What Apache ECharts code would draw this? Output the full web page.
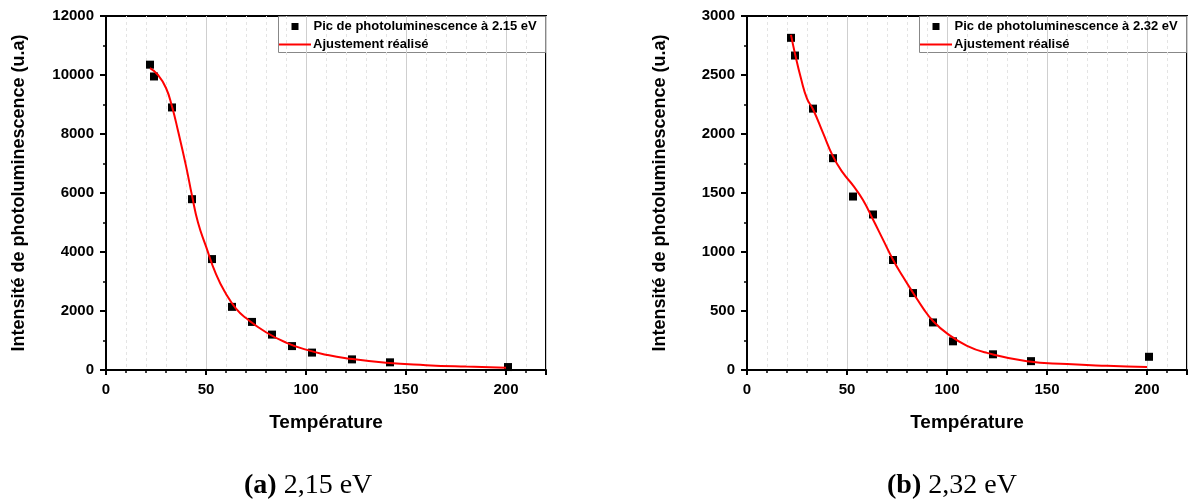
<!DOCTYPE html>
<html><head><meta charset="utf-8">
<script src="https://cdn.jsdelivr.net/npm/echarts@6/dist/echarts.min.js"></script>
<style>html,body{margin:0;padding:0;background:#fff}#c{width:1190px;height:503px}</style>
</head><body><div id="c"></div>
<script>
// Panel (a) 2,15 eV
const tempA = [22, 24, 33, 43, 53, 63, 73, 83, 93, 103, 123, 142, 201];
const intensA = [10350, 9950, 8900, 5790, 3760, 2140, 1630, 1200, 810, 590, 360, 260, 100];
const fitTA = [22, 26, 30, 33, 36, 40, 43, 46, 50, 55, 60, 65, 70, 80, 90, 100, 110, 120, 140, 160, 180, 200];
const fitVA = [10230, 10000, 9560, 8930, 8110, 6920, 5910, 5000, 4190, 3250, 2580, 2080, 1760, 1280, 930, 690, 520, 400, 245, 165, 115, 80];
// Panel (b) 2,32 eV
const tempB = [22, 24, 33, 43, 53, 63, 73, 83, 93, 103, 123, 142, 201];
const intensB = [2815, 2665, 2215, 1795, 1470, 1318, 932, 652, 403, 243, 133, 75, 112];
const fitTB = [22, 24, 27, 30, 33, 38, 43, 48, 53, 58, 63, 68, 73, 78, 83, 88, 93, 100, 110, 120, 140, 160, 180, 200];
const fitVB = [2840, 2680, 2470, 2300, 2210, 2010, 1810, 1670, 1565, 1440, 1275, 1105, 935, 790, 655, 525, 415, 310, 205, 145, 75, 50, 35, 25];
const xTicks = [0, 50, 100, 150, 200];
const xMin = 0, xMax = 220, xStep = 50;
const yA = {min: 0, max: 12000, step: 2000};
const yB = {min: 0, max: 3000, step: 500};
const nameScatterA = 'Pic de photoluminescence à 2.15 eV';
const nameScatterB = 'Pic de photoluminescence à 2.32 eV';
const nameFitA = 'Ajustement réalisé';
const nameFitB = 'Ajustement réalisé ';
const xTitle = 'Température';
const yTitle = 'Intensité de photoluminescence (u.a)';

const FONT = '"Liberation Sans", Arial, sans-serif';
const chart = echarts.init(document.getElementById('c'));

function xAxis(gi) {
  return {
    type: 'value', gridIndex: gi, min: xMin, max: xMax, interval: xStep,
    name: xTitle, nameLocation: 'middle', nameGap: 43,
    nameTextStyle: {fontFamily: FONT, fontWeight: 'bold', fontSize: 19, color: '#000'},
    axisLine: {show: true, onZero: false, lineStyle: {color: '#000', width: 2}},
    axisTick: {show: true, length: 5, lineStyle: {color: '#000', width: 2}},
    minorTick: {show: true, splitNumber: 5, length: 3, lineStyle: {color: '#000', width: 1.5}},
    axisLabel: {fontFamily: FONT, fontWeight: 'bold', fontSize: 15, color: '#000', margin: 12,
      showMaxLabel: false,
      formatter: v => xTicks.indexOf(v) >= 0 ? String(v) : ''},
    splitLine: {show: true, lineStyle: {color: '#cfcfcf', width: 1}},
    minorSplitLine: {show: true, lineStyle: {color: '#e4e4e4', width: 1, type: [3, 3]}}
  };
}
function yAxis(gi, r) {
  return {
    type: 'value', gridIndex: gi, min: r.min, max: r.max, interval: r.step,
    name: yTitle, nameLocation: 'middle', nameGap: 78, nameRotate: 90,
    nameTextStyle: {fontFamily: FONT, fontWeight: 'bold', fontSize: 18, color: '#000'},
    axisLine: {show: true, onZero: false, lineStyle: {color: '#000', width: 2}},
    axisTick: {show: true, length: 6, lineStyle: {color: '#000', width: 2}},
    minorTick: {show: true, splitNumber: 2, length: 3, lineStyle: {color: '#000', width: 1.5}},
    axisLabel: {fontFamily: FONT, fontWeight: 'bold', fontSize: 15, color: '#000', margin: 12,
      formatter: v => String(v)},
    splitLine: {show: false}
  };
}
function legendPair(left, sName, fName) {
  return [
    {show: true, left: left + 13.5, top: 20, padding: 0, orient: 'vertical', itemWidth: 7, itemHeight: 7,
     icon: 'rect', data: [sName], selectedMode: false,
     textStyle: {fontFamily: FONT, fontWeight: 'bold', fontSize: 13, color: '#000', padding: [0, 0, 0, 10]}},
    {show: true, left: left + 1, top: 38, padding: 0, orient: 'vertical', itemWidth: 32, itemHeight: 2,
     icon: 'path://M0,0H32V2H0Z', data: [fName], selectedMode: false,
     textStyle: {fontFamily: FONT, fontWeight: 'bold', fontSize: 13, color: '#000', padding: [0, 0, 0, -3]}}
  ];
}
function caption(left, tag, rest) {
  return {type: 'text', left: left, top: 472, style: {text: '{b|' + tag + '} ' + rest,
    font: '28px "Liberation Serif", "Times New Roman", serif', fill: '#000',
    rich: {b: {fontFamily: '"Liberation Serif", serif', fontWeight: 'bold', fontSize: 28}}}};
}

const option = {
  animation: false,
  backgroundColor: '#fff',
  grid: [
    {left: 106, right: 644, top: 16, bottom: 133, show: true, borderColor: '#000', borderWidth: 2, backgroundColor: 'transparent'},
    {left: 747, right: 3, top: 16, bottom: 133, show: true, borderColor: '#000', borderWidth: 2, backgroundColor: 'transparent'}
  ],
  xAxis: [xAxis(0), xAxis(1)],
  yAxis: [yAxis(0, yA), yAxis(1, yB)],
  legend: [...legendPair(278, nameScatterA, nameFitA), ...legendPair(919, nameScatterB, nameFitB)],
  graphic: [
    {type: 'rect', left: 278, top: 16, shape: {width: 267, height: 36}, style: {fill: '#fff', stroke: '#888', lineWidth: 1}},
    {type: 'rect', left: 919, top: 16, shape: {width: 267, height: 36}, style: {fill: '#fff', stroke: '#888', lineWidth: 1}},
    caption(244, '(a)', '2,15 eV'),
    caption(887, '(b)', '2,32 eV')
  ],
  series: [
    {name: nameScatterA, type: 'scatter', xAxisIndex: 0, yAxisIndex: 0, symbol: 'rect', symbolSize: 8,
     itemStyle: {color: '#000', opacity: 1}, data: tempA.map((t, i) => [t, intensA[i]]), z: 3},
    {name: nameFitA, type: 'line', xAxisIndex: 0, yAxisIndex: 0, symbol: 'none', smooth: 0.5,
     lineStyle: {color: '#ff0000', width: 2}, itemStyle: {color: '#ff0000'},
     data: fitTA.map((t, i) => [t, fitVA[i]]), z: 4},
    {name: nameScatterB, type: 'scatter', xAxisIndex: 1, yAxisIndex: 1, symbol: 'rect', symbolSize: 8,
     itemStyle: {color: '#000', opacity: 1}, data: tempB.map((t, i) => [t, intensB[i]]), z: 3},
    {name: nameFitB, type: 'line', xAxisIndex: 1, yAxisIndex: 1, symbol: 'none', smooth: 0.5,
     lineStyle: {color: '#ff0000', width: 2}, itemStyle: {color: '#ff0000'},
     data: fitTB.map((t, i) => [t, fitVB[i]]), z: 4}
  ]
};
chart.setOption(option);
</script></body></html>
